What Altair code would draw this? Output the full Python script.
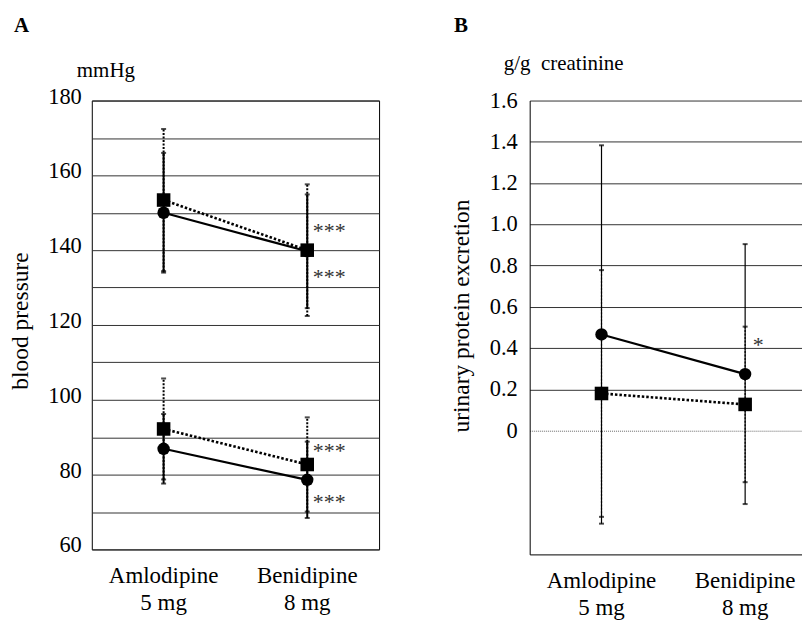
import altair as alt
import pandas as pd

FONT = "Liberation Serif, Times New Roman, Times, DejaVu Serif, serif"

groups = ["Amlodipine|5 mg", "Benidipine|8 mg"]

# Panel A: blood pressure (mmHg); circle = solid line, square = dotted line
sbp_circle_mean = [150.0, 139.7]
sbp_circle_sd = [16.0, 15.2]
sbp_square_mean = [153.4, 140.0]
sbp_square_sd = [19.0, 17.6]
dbp_circle_mean = [86.9, 78.6]
dbp_circle_sd = [9.3, 10.2]
dbp_square_mean = [92.2, 82.7]
dbp_square_sd = [13.5, 12.6]
bp_grid = [60, 70, 80, 90, 100, 110, 120, 130, 140, 150, 160, 170, 180]
bp_tick_values = [60, 80, 100, 120, 140, 160, 180]
bp_tick_labels = ["60", "80", "100", "120", "140", "160", "180"]
bp_star_y = [146.0, 133.8, 87.2, 73.5]
bp_star_text = ["***", "***", "***", "***"]

# Panel B: urinary protein excretion (g/g creatinine)
prot_circle_mean = [0.466, 0.274]
prot_circle_sd = [0.917, 0.630]
prot_square_mean = [0.180, 0.127]
prot_square_sd = [0.598, 0.377]
prot_grid = [0, 0.2, 0.4, 0.6, 0.8, 1.0, 1.2, 1.4, 1.6]
prot_tick_values = [0, 0.2, 0.4, 0.6, 0.8, 1.0, 1.2, 1.4, 1.6]
prot_tick_labels = ["0", "0.2", "0.4", "0.6", "0.8", "1.0", "1.2", "1.4", "1.6"]
prot_star_y = [0.43]
prot_star_text = ["*"]


def series_frame(name, means, sds, marker):
    return pd.DataFrame({
        "series": name,
        "group": groups,
        "mean": means,
        "lo": [m - s for m, s in zip(means, sds)],
        "hi": [m + s for m, s in zip(means, sds)],
        "marker": marker,
    })


bp_df = pd.concat([
    series_frame("sbp_circle", sbp_circle_mean, sbp_circle_sd, "circle"),
    series_frame("sbp_square", sbp_square_mean, sbp_square_sd, "square"),
    series_frame("dbp_circle", dbp_circle_mean, dbp_circle_sd, "circle"),
    series_frame("dbp_square", dbp_square_mean, dbp_square_sd, "square"),
], ignore_index=True)

prot_df = pd.concat([
    series_frame("prot_circle", prot_circle_mean, prot_circle_sd, "circle"),
    series_frame("prot_square", prot_square_mean, prot_square_sd, "square"),
], ignore_index=True)

bp_star_df = pd.DataFrame({"group": groups[1], "y": bp_star_y, "t": bp_star_text})
prot_star_df = pd.DataFrame({"group": groups[1], "y": prot_star_y, "t": prot_star_text})
bp_tick_df = pd.DataFrame({"v": bp_tick_values, "t": bp_tick_labels})
prot_tick_df = pd.DataFrame({"v": prot_tick_values, "t": prot_tick_labels})


def text_chart(s):
    return alt.Chart(pd.DataFrame({"t": [s]}))


def panel(df, star_df, tick_df, xscale, xaxis, yscale, yaxis, w, h, rule_w,
          star_dx, label_x, label_dy, xlab_y, title, title_x, title_y,
          letter, letter_x, unit, unit_x, unit_y, view):
    X = alt.X("group:N", scale=xscale, axis=xaxis)

    def Y(field):
        return alt.Y(field, scale=yscale, axis=yaxis)

    base = alt.Chart(df)
    sq = base.transform_filter("datum.marker == 'square'")
    ci = base.transform_filter("datum.marker == 'circle'")

    sq_err = sq.mark_rule(strokeDash=[2, 1.5], strokeWidth=rule_w, color="black").encode(
        x=X, y=Y("lo:Q"), y2="hi:Q")
    sq_cap = sq.transform_fold(["lo", "hi"]).mark_tick(
        size=5, thickness=2, color="black").encode(x=X, y=Y("value:Q"))
    ci_err = ci.mark_rule(strokeWidth=rule_w, color="black").encode(
        x=X, y=Y("lo:Q"), y2="hi:Q")
    ci_cap = ci.transform_fold(["lo", "hi"]).mark_tick(
        size=5, thickness=2, color="black").encode(x=X, y=Y("value:Q"))

    sq_line = sq.mark_line(strokeDash=[2.5, 2], strokeWidth=2.6, color="black").encode(
        x=X, y=Y("mean:Q"), detail="series:N")
    ci_line = ci.mark_line(strokeWidth=2.2, color="black").encode(
        x=X, y=Y("mean:Q"), detail="series:N")

    sq_pt = sq.mark_point(shape="square", filled=True, size=185, opacity=1,
                          color="black").encode(x=X, y=Y("mean:Q"))
    ci_pt = ci.mark_point(shape="circle", filled=True, size=155, opacity=1,
                          color="black").encode(x=X, y=Y("mean:Q"))

    stars = alt.Chart(star_df).mark_text(
        dx=star_dx, dy=3.5, font=FONT, fontSize=22, color="#333", baseline="middle",
        align="center").encode(x=X, y=Y("y:Q"), text="t:N")

    ylabels = alt.Chart(tick_df).mark_text(
        align="right", baseline="middle", dy=label_dy, font=FONT, fontSize=22.5,
        color="black").encode(x=alt.value(label_x), y=Y("v:Q"), text="t:N")

    xlabels = alt.Chart(pd.DataFrame({"group": groups})).mark_text(
        align="center", baseline="alphabetic", lineBreak="|", lineHeight=27,
        font=FONT, fontSize=23, color="black").encode(
        x=X, y=alt.value(xlab_y), text="group:N")

    ytitle = text_chart(title).mark_text(
        angle=270, align="center", baseline="middle", font=FONT, fontSize=23.5,
        color="black").encode(x=alt.value(title_x), y=alt.value(title_y), text="t:N")

    letter_t = text_chart(letter).mark_text(
        align="left", baseline="alphabetic", font=FONT, fontSize=21,
        fontWeight="bold", color="black").encode(
        x=alt.value(letter_x), y=alt.value(-69), text="t:N")
    unit_t = text_chart(unit).mark_text(
        align="left", baseline="alphabetic", font=FONT, fontSize=21,
        color="black").encode(x=alt.value(unit_x), y=alt.value(unit_y), text="t:N")

    return alt.layer(sq_err, ci_err, sq_cap, ci_cap, sq_line, ci_line, sq_pt, ci_pt,
                     stars, ylabels, xlabels, ytitle, letter_t, unit_t).properties(
        width=w, height=h, view=view)


a_x_scale = alt.Scale(type="point", domain=groups, padding=0.5)
a_x_axis = alt.Axis(labels=False, ticks=False, domain=False, title=None)
a_y_scale = alt.Scale(domain=[60, 180], nice=False, zero=False)
a_y_axis = alt.Axis(values=bp_grid, labels=False, ticks=False, domain=False,
                    title=None, grid=True, gridColor="#333", gridWidth=1)

# B plot runs to the right edge of the picture (273 px); its points sit
# 72 px and 216 px from its left edge, as in panel A.
b_x_scale = alt.Scale(type="point", domain=groups, padding=0.44792, align=0.55814)
b_x_axis = alt.Axis(labels=False, ticks=False, domain=True, domainColor="black",
                    domainWidth=1, title=None)
b_y_scale = alt.Scale(domain=[-0.6, 1.6], nice=False, zero=False)
b_y_axis = alt.Axis(
    values=prot_grid, labels=False, ticks=False, title=None, grid=True,
    gridColor=alt.condition("datum.value === 0", alt.value("#666"), alt.value("#333")),
    gridDash=alt.condition("datum.value === 0", alt.value([1, 1]), alt.value([])),
    gridWidth=1, domain=True, domainColor="black", domainWidth=1)

panel_a = panel(bp_df, bp_star_df, bp_tick_df, a_x_scale, a_x_axis, a_y_scale, a_y_axis,
                288, 450, 2, 22, -10, -4, 484, "blood pressure", -71, 221,
                "A", -78, "mmHg", -15, -24,
                alt.ViewBackground(stroke="black", strokeWidth=1))
panel_b = panel(prot_df, prot_star_df, prot_tick_df, b_x_scale, b_x_axis, b_y_scale,
                b_y_axis, 273, 455, 1.2, 13, -12, 0, 489, "urinary protein excretion",
                -68, 216, "B", -76, "g/g\u00a0 creatinine", -26, -31,
                alt.ViewBackground(strokeWidth=0))

chart = alt.hconcat(panel_a, panel_b, spacing=151, bounds="flush").properties(
    padding={"left": 0, "top": 5, "right": 0, "bottom": 0},
    background="white",
).configure_view(strokeWidth=0)

chart.save("out.html", embed_options={"renderer": "svg", "actions": False})
